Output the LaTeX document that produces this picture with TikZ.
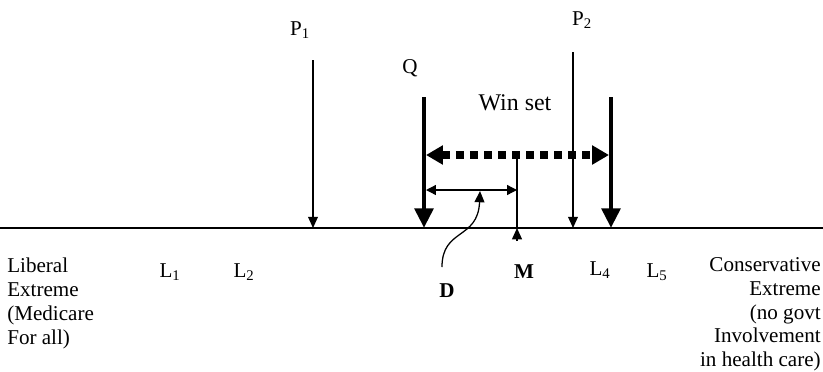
\documentclass[tikz,border=0pt]{standalone}
\usepackage{fontspec}
\setmainfont{Liberation Serif}
\usetikzlibrary{arrows.meta,positioning,calc}

\begin{document}
\begin{tikzpicture}[x=0.025cm,y=-0.025cm,
  every node/.style={font=\fontsize{15}{17}\selectfont,inner sep=0pt},
  thinarrow/.style={line width=0.9pt,-{Triangle[length=8pt,width=7pt]}},
  thickarrow/.style={line width=3.5pt,-{Triangle[length=14pt,width=13pt]}},
  winarrow/.style={line width=5pt,dash pattern=on 5.5pt off 4.5pt,
    {Triangle[length=12pt,width=13pt]}-{Triangle[length=12pt,width=13pt]}},
  darrow/.style={line width=0.9pt,{Triangle[length=7pt,width=7pt]}-{Triangle[length=7pt,width=7pt]}}
]
  \useasboundingbox (0,0) rectangle (823,371);

  % the policy line
  \coordinate (lineL) at (0,228);
  \coordinate (lineR) at (823,228);
  \draw[line width=0.9pt] (lineL) -- (lineR);

  % proposals and status quo
  \node (p1) at (300,30) {P\textsubscript{1}};
  \coordinate (p1top) at (313,60);
  \coordinate (p1bot) at (313,228);
  \draw[thinarrow] (p1top) -- (p1bot);

  \node (p2) at (582,20) {P\textsubscript{2}};
  \coordinate (p2top) at (573,52);
  \coordinate (p2bot) at (573,228);
  \draw[thinarrow] (p2top) -- (p2bot);

  \node (q) at (410,68) {Q};
  \coordinate (qtop) at (424,97);
  \coordinate (qbot) at (424,228);
  \draw[thickarrow] (qtop) -- (qbot);

  \coordinate (wtop) at (611,97);
  \coordinate (wbot) at (611,228);
  \draw[thickarrow] (wtop) -- (wbot);

  % win set
  \node[font=\fontsize{17}{19}\selectfont] (win) at (515,103) {Win set};
  \coordinate (winL) at (426,155);
  \coordinate (winR) at (609,155);
  \draw[winarrow] (winL) -- (winR);

  % median
  \coordinate (mtop) at (517,155);
  \coordinate (mline) at (517,228);
  \coordinate (mbot) at (517,241);
  \draw[line width=0.9pt] (mtop) -- (mline);
  \draw[thinarrow] (mbot) -- (mline);
  \node[font=\fontsize{15}{17}\selectfont\bfseries] (m) at (524,272) {M};

  % distance
  \coordinate (dL) at (426,190);
  \coordinate (dR) at (517,190);
  \draw[darrow] (dL) -- (dR);
  \coordinate (dstart) at (442,267);
  \coordinate (dend) at (480,191);
  \draw[thinarrow] (dstart) .. controls (442,228) and (478,240) .. (dend);
  \node[font=\fontsize{15}{17}\selectfont\bfseries] (d) at (447,291) {D};

  % legislators
  \node (l1) at (170,272) {L\textsubscript{1}};
  \node (l2) at (244,272) {L\textsubscript{2}};
  \node (l4) at (600,270) {L\textsubscript{4}};
  \node (l5) at (657,272) {L\textsubscript{5}};

  % extremes
  \node[anchor=north west,align=left] (lib) at (7,258)
    {Liberal\\Extreme\\(Medicare\\For all)};
  \node[anchor=north east,align=right] (con) at (821,257)
    {Conservative\\Extreme\\(no govt\\Involvement\\in health care)};
\end{tikzpicture}
\end{document}
